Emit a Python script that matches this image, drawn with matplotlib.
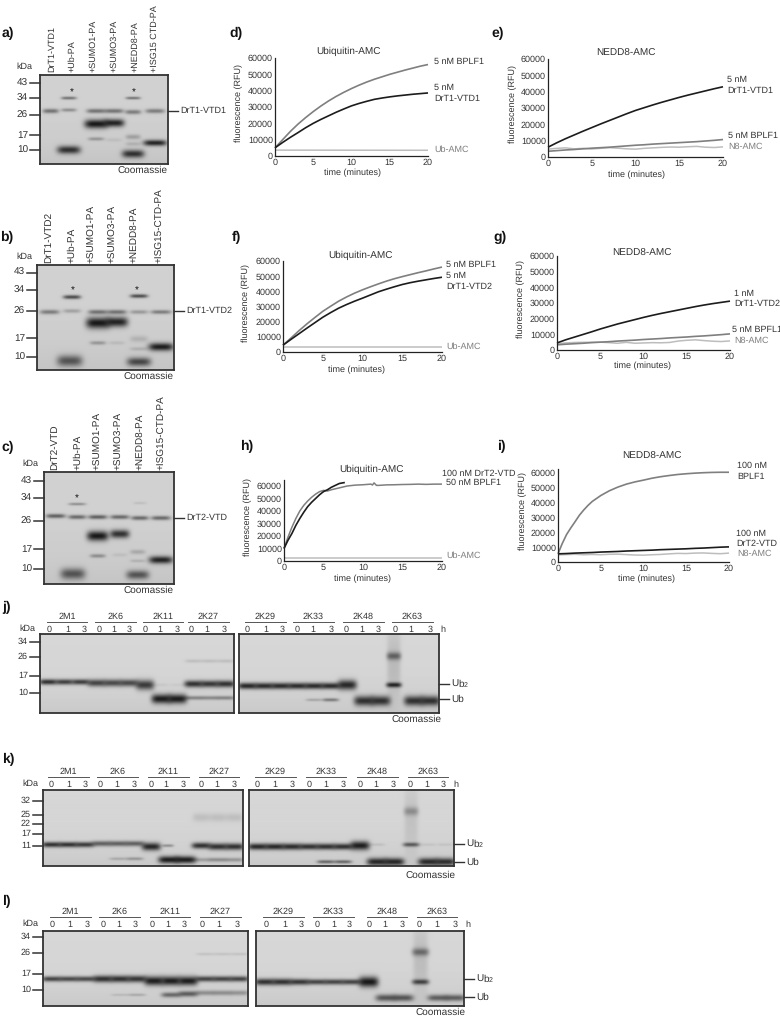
"""Gel and AMC assay figure, panels a-l."""
import numpy as np
from matplotlib import pyplot as plt

plt.rcParams['font.family'] = ['Liberation Sans', 'DejaVu Sans']
plt.rcParams['mathtext.default'] = 'regular'
plt.rcParams['text.hinting'] = 'no_hinting'
plt.rcParams['text.hinting_factor'] = 1

W, H = 780, 1017
TXT = '#333333'
BLACK = '#1c1c1c'
GREY = '#7f7f7f'
LIGHT = '#bdbdbd'

# assay curves, one reading per minute
minutes = list(range(21))
ends = [0, 20]

d_bplf = [5000, 10000, 15000, 19500, 23500, 27200, 30600, 33700, 36500, 39000, 41300,
          43400, 45300, 47000, 48500, 50000, 51300, 52600, 53800, 55000, 56000]
d_vtd = [5000, 8300, 11400, 14300, 17300, 20000, 22400, 24600, 26800, 28800, 30700,
         32200, 33500, 34700, 35500, 36200, 36800, 37300, 37800, 38200, 38600]
d_ub = [3600, 3500]

e_vtd = [6000, 8700, 11200, 13500, 15800, 18000, 20200, 22300, 24400, 26500, 28500,
         30200, 31900, 33500, 35000, 36500, 37900, 39200, 40500, 41800, 43000]
e_bplf = [3500, 3900, 4300, 4600, 5000, 5400, 5700, 6000, 6400, 6800, 7200,
          7500, 7900, 8200, 8500, 8800, 9100, 9400, 9800, 10200, 10700]
e_n8 = [4800, 5300, 5600, 5000, 5300, 4900, 5300, 5700, 5400, 5000, 4800,
        5300, 5600, 5900, 6100, 6000, 6300, 6500, 6000, 5800, 6200]

f_bplf = [4500, 9200, 14000, 18500, 22700, 26800, 30200, 33500, 36300, 38800, 41000,
          43000, 44900, 46700, 48300, 49700, 51000, 52300, 53500, 54800, 56000]
f_vtd = [4500, 8300, 12000, 15700, 19300, 22900, 26000, 28900, 31300, 33500, 35500,
         37600, 39700, 41400, 43000, 44500, 45700, 46700, 47600, 48500, 49300]
f_ub = [3000, 3000]

g_vtd = [4500, 6500, 8200, 9900, 11600, 13400, 15000, 16600, 18000, 19400, 20800,
         22100, 23300, 24400, 25500, 26600, 27700, 28700, 29600, 30400, 31200]
g_bplf = [3300, 3700, 4000, 4300, 4700, 5000, 5300, 5700, 6000, 6300, 6700,
          7000, 7300, 7700, 8000, 8300, 8700, 9000, 9400, 9800, 10300]
g_n8 = [4000, 4500, 4800, 4900, 5000, 5000, 4700, 4300, 4900, 4300, 4500,
        4700, 4600, 4800, 5700, 6200, 6500, 6000, 5600, 5400, 5800]

h_vtd_t = [0, 0.5, 1, 1.5, 2, 2.5, 3, 3.5, 4, 4.5, 5, 5.5, 6, 6.5, 7, 7.7]
h_vtd = [10000, 16500, 22000, 28500, 34000, 39000, 43500, 47000, 50000, 53000, 55500,
         57000, 59000, 60500, 62000, 62800]
h_bplf_t = [0, 0.5, 1, 1.5, 2, 2.5, 3, 3.5, 4, 4.5, 5, 5.5, 6, 7, 8, 9, 10, 11, 11.2,
            11.4, 11.7, 12, 13, 14, 15, 16, 17, 18, 19, 20]
h_bplf = [10000, 19000, 27000, 34000, 40000, 44500, 48000, 51000, 53500, 55500, 56500,
          56000, 57000, 58500, 60000, 60700, 61000, 61500, 60800, 62500, 60500, 60500,
          60900, 61000, 61200, 61300, 61500, 61300, 61500, 61500]
h_ub = [2700, 2700]

i_bplf_t = [0, 0.5, 1, 1.5, 2, 2.5, 3, 3.5, 4, 5, 6, 7, 8, 9, 10, 11, 12, 13, 14, 15, 16, 17, 18, 19, 20]
i_bplf = [5500, 12500, 18500, 23000, 27200, 31500, 35000, 38100, 40800, 44800, 48000,
          50500, 52500, 54000, 55200, 56500, 57500, 58300, 59000, 59500, 59900, 60200,
          60400, 60500, 60500]
i_vtd = [5500, 5700, 6000, 6200, 6400, 6700, 6900, 7100, 7400, 7600, 7800,
         8000, 8300, 8500, 8700, 8900, 9200, 9400, 9700, 10000, 10200]
i_n8 = [4800, 5000, 5200, 4900, 5100, 4900, 5200, 5300, 5000, 4700, 4600,
        4900, 5100, 5500, 5800, 5700, 6000, 6100, 5800, 5600, 6000]

# gel bands: lane, migration from gel top (px), density, width (lanes), half thickness (px)
gel_a = [(0.0, 36, .50, .75, 1.8), (0.85, 23, .50, .72, 1.2), (0.85, 35, .35, .72, 1.4),
         (0.85, 75, .85, 1.1, 3.2), (2.13, 49, .98, 1.1, 3.6), (2.13, 36, .50, .9, 1.8),
         (2.13, 64, .30, .75, 1.4), (2.97, 48, .92, .98, 3.2), (2.97, 36, .50, .9, 1.8),
         (2.97, 65, .08, .75, 1.5), (3.87, 37, .45, .75, 1.8), (3.87, 23, .50, .7, 1.1),
         (3.87, 62, .25, .7, 2.0), (3.87, 69, .15, .7, 1.6), (3.87, 79, .85, 1.05, 3.2),
         (4.9, 36, .45, .9, 1.8), (4.9, 68, .92, 1.1, 2.4)]
gel_b = [(0.05, 47, .45, .85, 1.8), (1.03, 32, .70, .78, 1.6), (1.03, 46, .25, .78, 1.6),
         (0.93, 96, .65, 1.12, 4.5), (2.17, 58, .98, 1.05, 4.5), (2.17, 47, .50, .85, 1.8),
         (2.17, 78, .30, .7, 1.5), (3.0, 57, .92, .98, 4.0), (3.0, 47, .50, .85, 1.8),
         (3.0, 78, .10, .7, 1.4), (3.97, 31, .70, .78, 1.5), (3.97, 47, .30, .78, 1.6),
         (3.97, 74, .15, .78, 2.5), (3.97, 84, .15, .78, 1.5), (3.97, 97, .72, 1.05, 3.5),
         (4.94, 47, .45, .9, 1.6), (4.94, 82, .95, 1.1, 3.2)]
gel_c = [(0.04, 44, .60, .9, 1.7), (1.03, 32, .35, .8, 1.1), (1.03, 45, .55, .82, 1.7),
         (0.83, 102, .65, 1.15, 4.5), (1.98, 64, .98, 1.0, 4.0), (1.98, 45, .60, .88, 1.7),
         (1.98, 84, .35, .72, 1.5), (3.0, 62, .85, .9, 3.4), (3.0, 45, .55, .88, 1.7),
         (3.0, 83, .08, .7, 1.4), (3.93, 46, .55, .8, 1.7), (3.93, 31, .10, .6, 1.0),
         (3.83, 80, .20, .7, 1.8), (3.83, 89, .15, .7, 1.2), (3.83, 103, .65, 1.05, 3.6),
         (4.9, 46, .55, .9, 1.7), (4.9, 88, .92, 1.1, 3.0)]

gel_j_left = [(0, 48, .85, .95, 2.0), (1, 48, .78, .95, 2.0), (2, 48, .78, .95, 2.0),
              (3, 49, .75, 1.0, 2.6), (4, 49, .72, 1.0, 2.6), (5, 49, .72, 1.0, 2.6),
              (6, 51, .80, 1.0, 3.6), (7, 51, .06, .8, 1.2), (8, 51, .05, .8, 1.2),
              (7, 65, .95, 1.05, 3.4), (8, 65, .95, 1.05, 3.4),
              (9, 50, .85, 1.0, 2.5), (10, 50, .82, 1.0, 2.5), (11, 50, .85, 1.0, 2.5),
              (9, 64, .40, 1.0, 1.4), (10, 64, .38, 1.0, 1.4), (11, 64, .40, 1.0, 1.4),
              (9, 27, .12, .9, 1.2), (10, 27, .12, .9, 1.2), (11, 27, .12, .9, 1.2)]
gel_j_right = [(0, 52, .90, 1.0, 2.3), (1, 52, .88, 1.0, 2.3), (2, 52, .88, 1.0, 2.3),
               (3, 52, .88, 1.0, 2.3), (4, 52, .88, 1.0, 2.3), (5, 52, .88, 1.0, 2.3),
               (4, 66, .22, .85, 1.0), (5, 66, .45, .85, 1.2),
               (6, 51, .90, 1.0, 3.6), (7, 67, .85, 1.05, 3.6), (8, 67, .85, 1.05, 3.6),
               (8.8, 22, .55, .75, 2.8), (8.8, 51, .92, .8, 1.8), (8.8, 30, .14, .72, 28),
               (10, 67, .85, 1.05, 3.6), (11, 67, .85, 1.05, 3.6)]
gel_k_left = [(0, 55, .85, 1.0, 1.9), (1, 55, .85, 1.0, 1.9), (2, 55, .80, 1.0, 1.9),
              (3, 54, .60, 1.0, 1.9), (4, 54, .60, 1.0, 1.9), (5, 54, .60, 1.0, 1.9),
              (6, 57, .90, 1.0, 2.8), (7, 56, .35, .6, 1.0),
              (7.05, 70, .95, 1.1, 2.6), (8.05, 70, .95, 1.1, 2.6),
              (4, 69, .20, .9, 1.0), (5, 69, .30, .9, 1.1),
              (9, 56, .85, 1.0, 2.2), (10, 57, .85, 1.0, 2.4), (11, 57, .85, 1.0, 2.4),
              (9, 70, .25, 1.0, 1.4), (10, 70, .35, 1.0, 1.4), (11, 70, .30, 1.0, 1.4),
              (9, 28, .12, .9, 3.0), (10, 28, .12, .9, 3.0), (11, 28, .12, .9, 3.0)]
gel_k_right = [(0, 57, .90, 1.0, 2.3), (1, 57, .90, 1.0, 2.3), (2, 57, .88, 1.0, 2.3),
               (3, 57, .85, 1.0, 2.2), (4, 57, .85, 1.0, 2.2), (5, 57, .85, 1.0, 2.2),
               (4, 72, .55, .9, 1.2), (5, 72, .55, .9, 1.2),
               (6, 56, .95, 1.0, 3.2), (7, 72, .90, 1.05, 2.7), (8, 72, .90, 1.05, 2.7),
               (9, 22, .32, .75, 3.0), (9, 55, .62, .85, 1.5), (9, 30, .10, .7, 26),
               (10, 72, .88, 1.05, 2.7), (11, 72, .85, 1.05, 2.7),
               (7, 55, .10, .8, 1.0), (10, 55, .08, .8, 1.0), (11, 55, .08, .8, 1.0)]
gel_l_left = [(0, 48, .75, 1.0, 1.9), (1, 48, .72, 1.0, 1.9), (2, 48, .72, 1.0, 1.9),
              (3, 48, .85, 1.0, 2.5), (4, 48, .85, 1.0, 2.5), (5, 48, .82, 1.0, 2.5),
              (6, 50, .95, 1.0, 3.3), (7, 50, .95, 1.0, 3.3), (8, 50, .95, 1.0, 3.3),
              (9, 48, .75, 1.0, 2.0), (10, 48, .75, 1.0, 2.0), (11, 48, .75, 1.0, 2.0),
              (4, 64, .12, .9, .9), (5, 64, .20, .9, 1.0),
              (7, 64, .55, 1.0, 1.8), (8, 63, .62, 1.0, 2.0),
              (9, 62, .35, 1.0, 1.8), (10, 62, .35, 1.0, 1.8), (11, 62, .32, 1.0, 1.8),
              (9, 23, .10, .9, 1.0), (10, 23, .10, .9, 1.0), (11, 23, .10, .9, 1.0)]
gel_l_right = [(0, 51, .85, 1.0, 2.4), (1, 51, .85, 1.0, 2.4), (2, 51, .82, 1.0, 2.2),
               (3, 51, .75, 1.0, 2.0), (4, 51, .75, 1.0, 2.0), (5, 51, .75, 1.0, 2.0),
               (6, 51, .98, 1.0, 3.8), (7, 67, .65, 1.05, 2.5), (8, 67, .65, 1.05, 2.5),
               (9, 21, .50, .85, 2.8), (9, 51, .75, .85, 1.9), (9, 28, .13, .75, 26),
               (10, 67, .60, 1.05, 2.3), (11, 67, .60, 1.05, 2.3)]

# labels
lanes_a = ['DrT1-VTD1', '+Ub-PA', '+SUMO1-PA', '+SUMO3-PA', '+NEDD8-PA', '+ISG15 CTD-PA']
lanes_b = ['DrT1-VTD2', '+Ub-PA', '+SUMO1-PA', '+SUMO3-PA', '+NEDD8-PA', '+ISG15-CTD-PA']
lanes_c = ['DrT2-VTD', '+Ub-PA', '+SUMO1-PA', '+SUMO3-PA', '+NEDD8-PA', '+ISG15-CTD-PA']
groups = ['2M1', '2K6', '2K11', '2K27', '2K29', '2K33', '2K48', '2K63']
times = ['0', '1', '3']
yticks_rfu = [0, 10000, 20000, 30000, 40000, 50000, 60000]
xticks_min = [0, 5, 10, 15, 20]

fig = plt.figure(figsize=(W / 100, H / 100), dpi=100, facecolor='white')


def label(x, y, s, size=6.6, color=TXT, **kw):
    kw.setdefault('va', 'center')
    fig.text(x / W, 1 - y / H, s, fontsize=size, color=color, **kw)


def hline(x0, x1, y, color='#333333', lw=1.0):
    fig.add_artist(plt.Line2D([x0 / W, x1 / W], [1 - y / H, 1 - y / H], color=color, lw=lw))


def px_axes(x0, y0, x1, y1):
    return fig.add_axes([x0 / W, 1 - y1 / H, (x1 - x0) / W, (y1 - y0) / H])


def draw_gel(box, n_lanes, bands, bg=.84, spread=1.0, blur=1.25):
    x0, y0, x1, y1 = box
    ax = px_axes(*box)
    xs = np.linspace(-.5, n_lanes - .5, int(x1 - x0) * 3)
    ys = np.linspace(0, y1 - y0, int(y1 - y0) * 3)
    xx, yy = np.meshgrid(xs, ys)
    # slightly darker towards the bottom edge, as in the scans
    img = bg - .05 * (yy / (y1 - y0)) ** 3
    for lane, mig, dens, width, thick in bands:
        shape = np.exp(-((xx - lane) / (width / 2 * spread)) ** 4) * np.exp(-((yy - mig) / (thick * blur)) ** 2)
        img = img * (1 - .9 * dens * shape)
    ax.imshow(img, cmap='gray', vmin=0, vmax=1, aspect='auto',
              extent=(-.5, n_lanes - .5, y1 - y0, 0), interpolation='bilinear')
    ax.set_xticks([])
    ax.set_yticks([])
    for s in ax.spines.values():
        s.set_linewidth(1.3)
        s.set_color('#333333')
    return ax


def small_gel(box, bands, names, name_x, name_bottom, kda, kda_y, side, side_y, kda_label_x, coom_y, name_size=7.0):
    x0, y0, x1, y1 = box
    draw_gel(box, 6, bands, bg=.82)
    for x, s in zip(name_x, names):
        label(x, name_bottom, s, size=name_size, rotation=90, ha='center', va='bottom')
    for tick, yp in zip(kda, kda_y):
        hline(x0 - 10, x0, yp, lw=1.1)
        label(x0 - 12, yp, tick, ha='right', size=7.0)
    label(kda_label_x, y0 - 8, 'kDa', ha='center')
    hline(x1, x1 + 10, side_y, lw=1.0)
    label(x1 + 12, side_y, side, size=6.8)
    label(x1, coom_y, 'Coomassie', ha='right', size=6.9)


def wide_gel(left, right, top, bottom, bands_l, bands_r, kda, kda_y, group_x, time_x, group_y, ub2_y, ub_y, coom,
             kda_size=6.8):
    draw_gel((left[0], top, left[1], bottom), 12, bands_l, spread=1.15, blur=1.4)
    draw_gel((right[0], top, right[1], bottom), 12, bands_r, spread=1.15, blur=1.4)
    for tick, yp in zip(kda, kda_y):
        hline(left[0] - 10, left[0], yp, lw=1.1)
        label(left[0] - 12, yp, tick, ha='right', size=kda_size)
    label(left[0] - 13, group_y + 7, 'kDa', ha='center')
    for g, (a, b) in zip(groups, group_x):
        hline(a, b, group_y, lw=.7, color='#555555')
        label((a + b) / 2, group_y - 5, g, ha='center')
    for xs in time_x:
        for x, t in zip(xs, times):
            label(x, group_y + 8, t, ha='center')
    label(time_x[-1][-1] + 13, group_y + 8, 'h', ha='center')
    hline(right[1], right[1] + 10, ub2_y, lw=1.0)
    hline(right[1], right[1] + 10, ub_y, lw=1.0)
    label(right[1] + 12, ub2_y, 'Ub$_2$', size=7.2)
    label(right[1] + 12, ub_y, 'Ub', size=7.2)
    label(coom[0], coom[1], 'Coomassie', ha='right', size=6.9)


def draw_chart(box, top, series, title, xlab_x, xlab_y, ylab_x, notes):
    x0, y0, x1, y1 = box
    ax = px_axes(*box)
    ax.patch.set_alpha(0)
    for t, v, c, lw in series:
        ax.plot(t, v, color=c, lw=lw, clip_on=False, solid_capstyle='butt')
    ax.set_xlim(0, 20)
    ax.set_ylim(0, top)
    ax.set_xticks(xticks_min)
    ax.set_yticks(yticks_rfu)
    ax.tick_params(length=0, labelsize=6.2, labelcolor=TXT, pad=1.5)
    ax.spines['top'].set_visible(False)
    ax.spines['right'].set_visible(False)
    for side in ('left', 'bottom'):
        ax.spines[side].set_linewidth(.9)
        ax.spines[side].set_color('#222222')
    label(title[0], title[1], title[2], size=6.9, ha='center')
    label(xlab_x, xlab_y, 'time (minutes)', size=6.6, ha='center')
    label(ylab_x, (y0 + y1) / 2 - 4, 'fluorescence (RFU)', size=6.7, rotation=90, ha='center')
    for x, y, s, c in notes:
        label(x, y, s, size=6.2, color=c)


# small gels a-c
small_gel((40, 75, 168, 164), gel_a, lanes_a, [52, 72, 93, 114, 135, 155], 72,
          ['43', '34', '26', '17', '10'], [83, 98, 115, 135, 150], 'DrT1-VTD1', 111, 24, 170, name_size=6.6)
small_gel((37, 265, 174, 370), gel_b, lanes_b, [49, 72, 92, 113, 135, 160], 263,
          ['43', '34', '26', '17', '10'], [272.5, 290, 311, 338, 357], 'DrT1-VTD2', 311, 24, 376)
small_gel((44, 472, 174, 584), gel_c, lanes_c, [55, 78, 98, 119, 141, 162], 470,
          ['43', '34', '26', '17', '10'], [481, 498, 521, 549, 569], 'DrT2-VTD', 518, 30, 590)

for x, y in [(72, 93), (134, 93), (73, 291), (137, 291), (77, 499)]:
    label(x, y, '*', size=7, color='#111111', ha='center')

# assay panels d-i
draw_chart((275, 58, 428, 156), 60000,
           [(ends, d_ub, LIGHT, 1.1), (minutes, d_bplf, GREY, 1.2), (minutes, d_vtd, BLACK, 1.2)],
           (348, 51, 'Ubiquitin-AMC'), 353, 173, 239,
           [(434, 62, '5 nM BPLF1', TXT), (434, 88, '5 nM', TXT), (434, 99, 'DrT1-VTD1', TXT),
            (434, 150, 'Ub-AMC', GREY)])
draw_chart((548, 59, 723, 157), 60000,
           [(minutes, e_n8, LIGHT, 1.1), (minutes, e_bplf, GREY, 1.2), (minutes, e_vtd, BLACK, 1.2)],
           (626, 53, 'NEDD8-AMC'), 637, 175, 513,
           [(727, 80, '5 nM', TXT), (727, 91, 'DrT1-VTD1', TXT), (728, 136, '5 nM BPLF1', TXT),
            (728, 147, 'N8-AMC', GREY)])
draw_chart((283, 261, 442, 352), 60000,
           [(ends, f_ub, LIGHT, 1.1), (minutes, f_bplf, GREY, 1.2), (minutes, f_vtd, BLACK, 1.2)],
           (360, 255, 'Ubiquitin-AMC'), 356, 370, 246,
           [(446, 265, '5 nM BPLF1', TXT), (446, 276, '5 nM', TXT), (446, 287, 'DrT1-VTD2', TXT),
            (446, 347, 'Ub-AMC', GREY)])
draw_chart((557, 256, 730, 350), 60000,
           [(minutes, g_n8, LIGHT, 1.1), (minutes, g_bplf, GREY, 1.2), (minutes, g_vtd, BLACK, 1.2)],
           (642, 253, 'NEDD8-AMC'), 642, 366, 521,
           [(734, 294, '1 nM', TXT), (734, 304, 'DrT1-VTD2', TXT), (732, 330, '5 nM BPFL1', TXT),
            (734, 341, 'N8-AMC', GREY)])
draw_chart((284, 480, 442, 561), 64800,
           [(ends, h_ub, LIGHT, 1.1), (h_bplf_t, h_bplf, GREY, 1.1), (h_vtd_t, h_vtd, BLACK, 1.2)],
           (371, 469, 'Ubiquitin-AMC'), 362, 579, 248,
           [(442, 474, '100 nM DrT2-VTD', TXT), (446, 483, '50 nM BPLF1', TXT), (446, 556, 'Ub-AMC', GREY)])
draw_chart((558, 469, 729, 562), 62700,
           [(minutes, i_n8, LIGHT, 1.1), (i_bplf_t, i_bplf, GREY, 1.2), (minutes, i_vtd, BLACK, 1.2)],
           (652, 456, 'NEDD8-AMC'), 646, 579, 523,
           [(737, 466, '100 nM', TXT), (737, 477, 'BPLF1', TXT), (736, 534, '100 nM', TXT),
            (736, 544, 'DrT2-VTD', TXT), (737, 554, 'N8-AMC', GREY)])

# wide gels j-l
wide_gel((40, 234), (239, 439), 634, 713, gel_j_left, gel_j_right,
         ['34', '26', '17', '10'], [642, 657, 676, 693],
         [(47, 87), (95, 136), (143, 183), (188, 229), (245, 286), (293, 334), (343, 384), (392, 433)],
         [(49, 68, 84), (99, 114, 129), (145, 160, 177), (191, 207, 224),
          (247, 266, 282), (297, 313, 331), (346, 362, 378), (395, 411, 430)],
         622, 684, 699, (442, 719))
wide_gel((43, 243), (249, 454), 790, 866, gel_k_left, gel_k_right,
         ['32', '25', '22', '17', '11'], [801, 815, 824, 834, 846],
         [(48, 89), (97, 138), (148, 189), (199, 239), (255, 296), (306, 346), (357, 398), (408, 448)],
         [(51, 69, 85), (100, 117, 134), (151, 166, 183), (201, 217, 234),
          (257, 275, 292), (309, 326, 343), (360, 376, 393), (410, 427, 443)],
         777, 844, 862, (455, 875), kda_size=6.2)
wide_gel((43, 248), (256, 464), 931, 1006, gel_l_left, gel_l_right,
         ['34', '26', '17', '10'], [937, 953, 974, 990],
         [(50, 91), (99, 140), (150, 190), (200, 241), (263, 304), (313, 354), (367, 407), (417, 457)],
         [(52, 70, 87), (103, 119, 135), (152, 168, 184), (202, 219, 237),
          (266, 285, 301), (317, 334, 349), (369, 385, 402), (419, 437, 455)],
         917, 979, 997, (466, 1012))

# panel letters
for x, y, s in [(2, 33, 'a)'), (0, 237, 'b)'), (1, 447, 'c)'), (229, 33, 'd)'), (491, 33, 'e)'),
                (232, 237, 'f)'), (493, 237, 'g)'), (240, 446, 'h)'), (497, 446, 'i)'),
                (2, 607, 'j)'), (2, 759, 'k)'), (2, 901, 'l)')]:
    label(x, y, s, size=10, color='#111111', fontweight='bold')

fig.savefig('out.png', dpi=100)
